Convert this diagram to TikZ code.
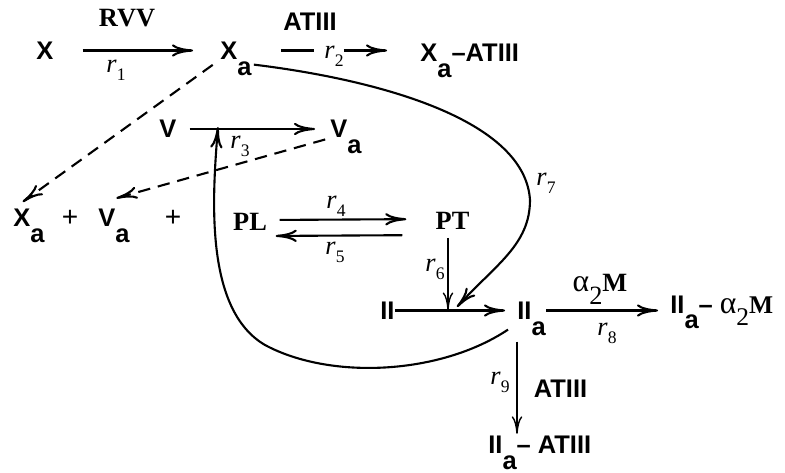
\documentclass[tikz,border=0pt]{standalone}
\usepackage{fontspec}
\setmainfont{Liberation Serif}
\newfontfamily\hv{Liberation Sans}
\usetikzlibrary{arrows.meta}
\newcommand\sba{\smash{\raisebox{-9pt}{a}}}
\newcommand\rt[1]{\textit{r}\raisebox{-4.5pt}{\fontsize{10}{11}\selectfont#1}}
\newcommand\alM{{\rmfamily\mdseries{\fontsize{18}{18}\selectfont α}\raisebox{-7pt}{2}\bfseries M}}

\begin{document}
\begin{tikzpicture}[x=0.02cm,y=-0.02cm,
  sp/.style={font=\hv\bfseries\fontsize{14.5}{17}\selectfont,inner sep=0pt},
  lbl/.style={font=\bfseries\fontsize{15}{17}\selectfont,inner sep=0pt},
  rate/.style={font=\fontsize{15}{17}\selectfont,inner sep=0pt},
  rx/.style={-{To[length=12pt,width=7pt]},line width=1.2pt},
  thinrx/.style={-{To[length=10pt,width=6pt]},line width=0.8pt},
  dashrx/.style={rx,dash pattern=on 7pt off 4.5pt}]
  \useasboundingbox (0,0) rectangle (785,473);

  \node[sp,anchor=west] (X) at (36,50.5) {X};
  \node[sp,anchor=west] (Xa) at (220,50.5) {X\sba};
  \node[sp,anchor=west] (XaAT) at (420,52.5) {X\sba–ATIII};
  \node[lbl] (RVV) at (127,18.5) {RVV};
  \node[sp] (AT1) at (310,21.5) {ATIII};
  \node[rate] (r1) at (116,70) {\rt1};
  \node[rate] (r2) at (334,56) {\rt2};

  \node[sp,anchor=west] (V) at (159,129) {V};
  \node[sp,anchor=west] (Va) at (330,129) {V\sba};
  \node[rate] (r3) at (240,146) {\rt3};

  \node[sp,anchor=west] (Xa2) at (13,218) {X\sba};
  \node[font=\hv\fontsize{16}{17}\selectfont,inner sep=0pt] (p1) at (70,218) {+};
  \node[sp,anchor=west] (Va2) at (98,218) {V\sba};
  \node[font=\hv\fontsize{16}{17}\selectfont,inner sep=0pt] (p2) at (173,218) {+};

  \node[lbl] (PL) at (250,222) {PL};
  \node[lbl] (PT) at (452.5,221) {PT};
  \node[rate] (r4) at (336,206) {\rt4};
  \node[rate] (r5) at (335,252) {\rt5};
  \node[rate] (r6) at (435,269) {\rt6};
  \node[rate] (r7) at (546,183) {\rt7};

  \node[sp,anchor=west] (II) at (380,310.5) {II};
  \node[sp,anchor=west] (IIa) at (517,310.5) {II\sba};
  \node[sp,anchor=west] (IIaM) at (670,310.5) {II\sba– \alM};
  \node[lbl,anchor=base] (aM) at (600,292) {\alM};
  \node[rate] (r8) at (607,333) {\rt8};
  \node[rate] (r9) at (500,382) {\rt9};
  \node[sp] (AT2) at (560.5,388.5) {ATIII};
  \node[sp,anchor=west] (IIaAT) at (488,445) {II\sba– ATIII};

  \coordinate (j) at (448,310);
  \coordinate (k) at (218,127);

  \draw[rx,shorten <=0.58cm,shorten >=0.54cm] (X) -- (Xa);
  \draw[line width=1.2pt,shorten <=0.58cm,shorten >=0.2cm] (Xa.east) -- (Xa.east -| r2.west);
  \draw[rx,shorten >=0.66cm] (Xa.east -| r2.east) -- (Xa.east -| XaAT.west);
  \draw[rx,shorten <=0.26cm,shorten >=0.3cm] (V) -- (Va);
  \draw[dashrx,shorten <=0.18cm,shorten >=0.24cm] (Xa.south west) -- (Xa2.north west);
  \draw[dashrx,shorten <=0.1cm,shorten >=0.05cm] (Va.south west) -- ([shift={(0,-10)}]Va2.north);
  \draw[rx,shorten <=0.25cm,shorten >=0.58cm] ([yshift=0.04cm]PL.east) -- ([yshift=0.04cm]PT.west);
  \draw[rx,shorten <=0.66cm,shorten >=0.17cm] ([yshift=-0.28cm]PT.west) -- ([yshift=-0.28cm]PL.east);
  \draw[thinrx,shorten <=0.16cm] (PT.south -| j) -- (j);
  \draw[rx,shorten >=0.24cm] (II) -- (IIa);
  \draw[rx] ([shift={(2,5)}]Xa.south east) .. controls (380,80) and (525,120) .. (530,200)
    .. controls (530,245) and (495,265) .. ([shift={(9,-3)}]j);
  \draw[rx,shorten >=0.24cm] (IIa) -- (IIaM);
  \draw[rx] ([shift={(-9,10)}]IIa.south west) .. controls (440,375) and (330,380) .. (265,345)
    .. controls (205,310) and (212,200) .. (k);
  \draw[thinrx,shorten <=0.44cm,shorten >=0.04cm] (IIa.south west) -- (IIa.south west |- IIaAT.north);
\end{tikzpicture}
\end{document}
